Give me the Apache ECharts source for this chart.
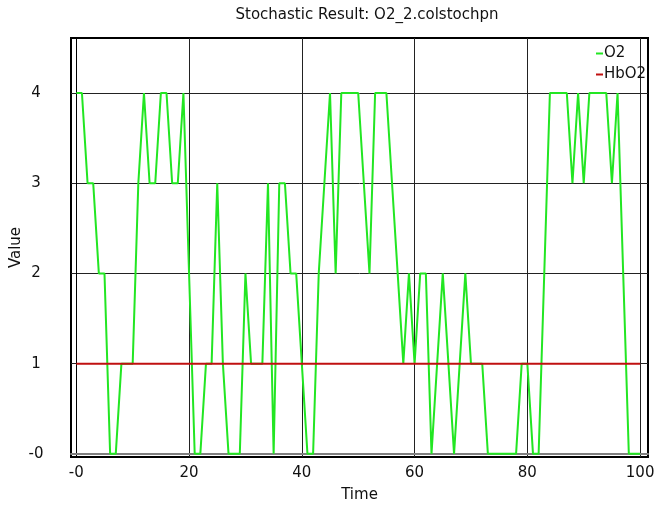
<!DOCTYPE html>
<html lang="en">
<head>
  <meta charset="UTF-8">
  <title>Stochastic Result</title>
  <script src="https://cdn.jsdelivr.net/npm/echarts@6/dist/echarts.min.js"></script>
  <style>
    html, body { margin: 0; padding: 0; background: #fff; }
    #box { width: 656px; height: 507px; }
  </style>
</head>
<body>
<div id="box"></div>
<script>
  // time steps and values
  var times = [];
  for (var t = 0; t <= 100; t++) times.push(t);
  var o2 = [4, 4, 3, 3, 2, 2, 0, 0, 1, 1,
            1, 3, 4, 3, 3, 4, 4, 3, 3, 4,
            2, 0, 0, 1, 1, 3, 1, 0, 0, 0,
            2, 1, 1, 1, 3, 0, 3, 3, 2, 2,
            1, 0, 0, 2, 3, 4, 2, 4, 4, 4,
            4, 3, 2, 4, 4, 4, 3, 2, 1, 2,
            1, 2, 2, 0, 1, 2, 1, 0, 1, 2,
            1, 1, 1, 0, 0, 0, 0, 0, 0, 1,
            1, 0, 0, 2, 4, 4, 4, 4, 3, 4,
            3, 4, 4, 4, 4, 3, 4, 2, 0, 0,
            0];
  var hbo2 = times.map(function () { return 1; });
  var xTicks = [0, 20, 40, 60, 80, 100];
  var yTicks = [0, 1, 2, 3, 4];

  var font = 'DejaVu Sans';
  function zeroLabel(v) { return v === 0 ? '-0' : String(v); }

  var chart = echarts.init(document.getElementById('box'));
  var option = {
    animation: false,
    backgroundColor: '#fff',
    title: {
      text: 'Stochastic Result: O2_2.colstochpn',
      left: 362,
      textAlign: 'center',
      top: 3,
      textStyle: { fontFamily: font, fontSize: 15, fontWeight: 'normal', color: '#111' }
    },
    legend: {
      data: ['O2', 'HbO2'],
      orient: 'vertical',
      left: 591,
      top: 41,
      icon: 'rect',
      itemWidth: 7,
      itemHeight: 2,
      itemGap: 6,
      textStyle: { fontFamily: font, fontSize: 15, color: '#111', padding: [0, 0, 0, -4] }
    },
    grid: {
      left: 71, right: 8, top: 38, bottom: 50,
      outerBoundsMode: 'none',
      containLabel: false,
      show: true, borderColor: '#000', borderWidth: 2, backgroundColor: '#fff'
    },
    xAxis: {
      type: 'value',
      min: -0.94,
      max: 101.4,
      name: 'Time',
      nameLocation: 'middle',
      nameGap: 31,
      nameMoveOverlap: false,
      nameTextStyle: { fontFamily: font, fontSize: 15, color: '#111' },
      axisLine: { onZero: true, lineStyle: { color: '#808080', width: 2 } },
      axisTick: { show: false, customValues: xTicks },
      axisLabel: { customValues: xTicks, formatter: zeroLabel, margin: 9,
        fontFamily: font, fontSize: 15, color: '#111' },
      splitLine: { show: true, lineStyle: { color: '#222', width: 1 } }
    },
    yAxis: {
      type: 'value',
      min: -0.035,
      max: 4.61,
      name: 'Value',
      nameLocation: 'middle',
      nameGap: 47,
      nameMoveOverlap: false,
      nameTextStyle: { fontFamily: font, fontSize: 15, color: '#111' },
      axisLine: { onZero: true, lineStyle: { color: '#000', width: 1 } },
      axisTick: { show: false, customValues: yTicks },
      axisLabel: { customValues: yTicks, formatter: zeroLabel, margin: 35, align: 'center',
        fontFamily: font, fontSize: 15, color: '#111' },
      splitLine: { show: true, lineStyle: { color: '#222', width: 1 } }
    },
    series: [
      {
        name: 'O2',
        type: 'line',
        data: times.map(function (x, i) { return [x, o2[i]]; }),
        showSymbol: false,
        lineStyle: { color: '#22e622', width: 2 },
        itemStyle: { color: '#22e622' }
      },
      {
        name: 'HbO2',
        type: 'line',
        data: times.map(function (x, i) { return [x, hbo2[i]]; }),
        showSymbol: false,
        lineStyle: { color: '#c01010', width: 2 },
        itemStyle: { color: '#c01010' }
      }
    ]
  };
  chart.setOption(option);
</script>
</body>
</html>
